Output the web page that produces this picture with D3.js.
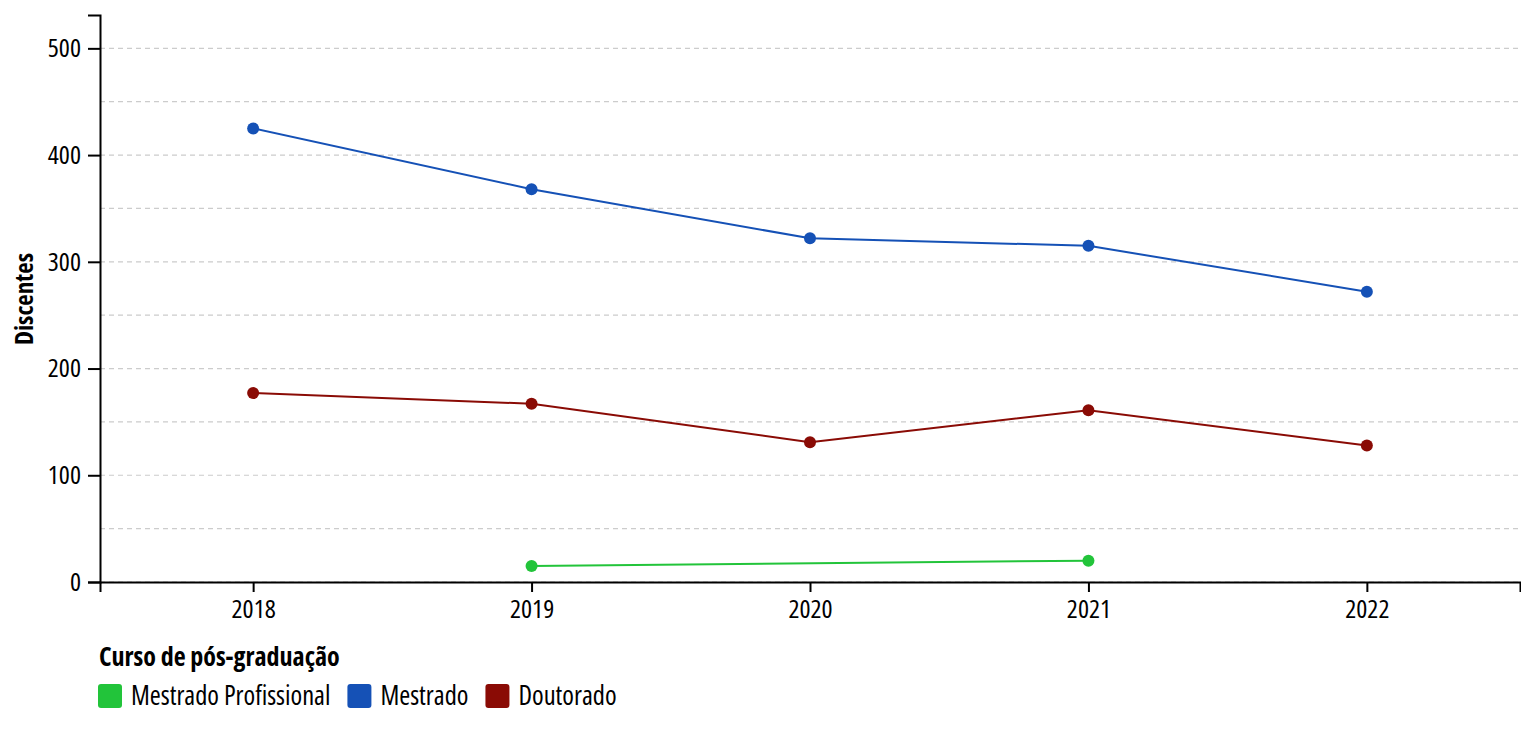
<!DOCTYPE html>
<html><head><meta charset="utf-8">
<script src="https://cdn.jsdelivr.net/npm/d3@7"></script>
<style>
body{margin:0;background:#fff;}
svg{font-family:"Open Sans",sans-serif;font-stretch:75%;}
</style></head>
<body><svg id="c" width="1521" height="742"></svg>
<script>
const years = ["2018","2019","2020","2021","2022"];
const seriesNames = ["Mestrado Profissional","Mestrado","Doutorado"];
const mestradoProfissional = [null, 15, null, 20, null];
const mestrado = [425, 368, 322, 315, 272];
const doutorado = [177, 167, 131, 161, 128];
const colors = ["#22c43a","#1551b6","#8a0b05"];
const yTicks = [0,100,200,300,400,500];

(function(){
const series = [mestradoProfissional, mestrado, doutorado];
const svg = d3.select("#c");
const mL=100, mR=1520, mT=15, mB=582;
const x = d3.scalePoint().domain(years).range([mL,mR]).padding(0.55);
const ymax = d3.max(series.flat().filter(v=>v!=null))*1.25;
const y = d3.scaleLinear().domain([0,ymax]).range([mB,mT]);

const grid = d3.range(0, ymax, 50);
svg.append("g").selectAll("line").data(grid).join("line")
  .attr("x1",mL).attr("x2",mR).attr("y1",d=>y(d)).attr("y2",d=>y(d))
  .attr("stroke","#cccccc").attr("stroke-width",1.2).attr("stroke-dasharray","5,4");

const yAxis = svg.append("g").attr("transform",`translate(${mL},0)`)
  .call(d3.axisLeft(y).tickValues(yTicks).tickSize(12).tickSizeOuter(12).tickPadding(7));
const xAxis = svg.append("g").attr("transform",`translate(0,${mB})`)
  .call(d3.axisBottom(x).tickSize(10).tickSizeOuter(10).tickPadding(8));
[yAxis,xAxis].forEach(a=>{
  a.selectAll("path,line").attr("stroke","#000").attr("stroke-width",2);
  a.selectAll("text").attr("font-size",26).attr("fill","#000");
  a.attr("font-family",null).attr("font-size",null);
});

svg.append("text").attr("transform","translate(33,299) rotate(-90)")
  .attr("text-anchor","middle").attr("font-size",25).attr("font-weight","bold")
  .text("Discentes");

const line = d3.line().x(d=>x(d.year)).y(d=>y(d.v));
series.forEach((s,i)=>{
  const pts = years.map((yr,j)=>({year:yr,v:s[j]})).filter(d=>d.v!=null);
  svg.append("path").datum(pts).attr("d",line).attr("fill","none")
    .attr("stroke",colors[i]).attr("stroke-width",2);
  svg.append("g").selectAll("circle").data(pts).join("circle")
    .attr("cx",d=>x(d.year)).attr("cy",d=>y(d.v)).attr("r",6).attr("fill",colors[i]);
});

svg.append("text").attr("x",99).attr("y",666).attr("font-size",26).attr("font-weight","bold").text("Curso de pós-graduação");
let lx = 98;
seriesNames.forEach((n,i)=>{
  const g = svg.append("g").attr("transform",`translate(${lx},684)`);
  g.append("rect").attr("width",24).attr("height",24).attr("rx",3).attr("fill",colors[i]);
  const t = g.append("text").attr("x",33).attr("y",21).attr("font-size",26.5).text(n);
  lx += 33 + t.node().getComputedTextLength() + 17;
});
})();
</script></body></html>
